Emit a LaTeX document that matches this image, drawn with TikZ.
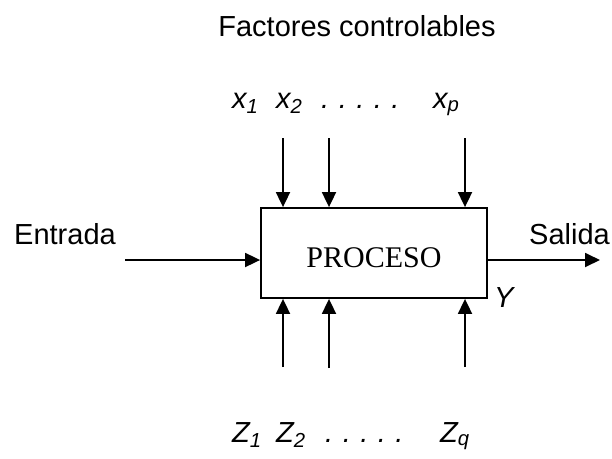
\documentclass[tikz,border=0pt]{standalone}
\usepackage{fontspec}
\setmainfont{Liberation Sans}
\newfontfamily\romanfont{Liberation Serif}
\usetikzlibrary{arrows.meta,positioning}

\newcommand{\puntos}{.\hspace{9.5pt}.\hspace{9.5pt}.\hspace{9.5pt}.\hspace{9.5pt}.}

\begin{document}
\begin{tikzpicture}[x=1pt,y=-1pt]
  \tikzset{
    flecha/.style={-{Triangle[length=15pt,width=14pt]}, line width=1.8pt},
    caja/.style={draw, line width=1.8pt, minimum width=226pt, minimum height=90pt, inner sep=0pt,
                 text height=29pt, text depth=0pt, font=\romanfont\fontsize{30}{35}\selectfont},
    etiq/.style={inner sep=0pt, font=\fontsize{29}{34}\selectfont},
    var/.style={etiq, anchor=base west, font=\fontsize{29}{34}\selectfont\itshape}
  }
  \useasboundingbox (0,0) rectangle (612,458);

  % x positions of the factor arrows
  \def\xA{283}
  \def\xB{329}
  \def\xP{465}

  % the process box
  \node[caja] (proc) at (374,253) {PROCESO};

  % title and input / output
  \node[etiq, anchor=base] (titulo) at (357,36) {Factores controlables};
  \node[etiq, anchor=base west] (entrada) at (14,244) {Entrada};
  \node[etiq, anchor=base west] (salida) at (529,244) {Salida};
  \node[var] (ysal) at (494,307) {Y};

  \coordinate (ent) at (125,260);
  \coordinate (sal) at (600,260);
  \draw[flecha] (ent) -- (ent -| proc.west);
  \draw[flecha] (proc.east |- sal) -- (sal);

  % controllable factors (top)
  \node[var] (x1) at (232,108) {x\textsubscript{1}};
  \node[var] (x2) at (276,108) {x\textsubscript{2}};
  \node[var] (xdots) at (321,108) {\puntos};
  \node[var] (xp) at (433,108) {x\textsubscript{p}};

  \coordinate (xs1) at (\xA,138);
  \coordinate (xs2) at (\xB,138);
  \coordinate (xsp) at (\xP,138);
  \draw[flecha] (xs1) -- (xs1 |- proc.north);
  \draw[flecha] (xs2) -- (xs2 |- proc.north);
  \draw[flecha] (xsp) -- (xsp |- proc.north);

  % uncontrollable factors (bottom)
  \coordinate (zs1) at (\xA,367);
  \coordinate (zs2) at (\xB,368);
  \coordinate (zsq) at (\xP,367);
  \draw[flecha] (zs1) -- (zs1 |- proc.south);
  \draw[flecha] (zs2) -- (zs2 |- proc.south);
  \draw[flecha] (zsq) -- (zsq |- proc.south);

  \node[var] (z1) at (232,442) {Z\textsubscript{1}};
  \node[var] (z2) at (276,442) {Z\textsubscript{2}};
  \node[var] (zdots) at (325,442) {\puntos};
  \node[var] (zq) at (440,442) {Z\textsubscript{q}};
\end{tikzpicture}
\end{document}
